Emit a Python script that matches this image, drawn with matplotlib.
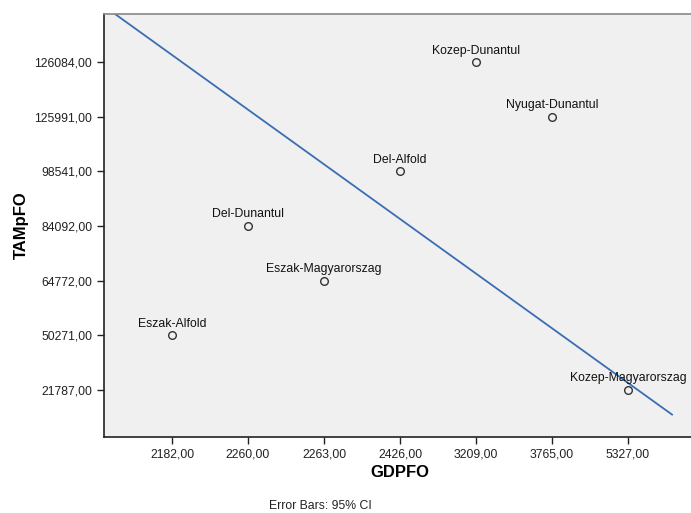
import numpy as np
import matplotlib.pyplot as plt

plt.rcParams['font.family'] = ['Liberation Sans', 'DejaVu Sans']

# categorical axes (SPSS treats the values as categories)
gdp_ticks = ['2182,00', '2260,00', '2263,00', '2426,00', '3209,00', '3765,00', '5327,00']
tam_ticks = ['21787,00', '50271,00', '64772,00', '84092,00', '98541,00', '125991,00', '126084,00']

regions = ['Eszak-Alfold', 'Del-Dunantul', 'Eszak-Magyarorszag', 'Del-Alfold',
           'Kozep-Dunantul', 'Nyugat-Dunantul', 'Kozep-Magyarorszag']
region_gdp = ['2182,00', '2260,00', '2263,00', '2426,00', '3209,00', '3765,00', '5327,00']
region_tam = ['50271,00', '84092,00', '64772,00', '98541,00', '126084,00', '125991,00', '21787,00']

# fit line, in category-position units
line_intercept = 6.13
line_slope = -1.0
line_span = [-0.75, 6.58]

fig = plt.figure(figsize=(6.91, 5.13), dpi=100)
ax = fig.add_axes([104 / 691, 76 / 513, 592 / 691, 423 / 513])
ax.set_facecolor('#f0f0f0')

xs = [gdp_ticks.index(v) for v in region_gdp]
ys = [tam_ticks.index(v) for v in region_tam]

lx = np.array(line_span)
ax.plot(lx, line_intercept + line_slope * lx, color='#3a6db3', lw=1.3, zorder=2)

ax.plot(xs, ys, 'o', ms=5.5, mfc='none', mec='#333333', mew=1.0, zorder=3)
for name, x, y in zip(regions, xs, ys):
    ax.annotate(name, (x, y), xytext=(0, 4), textcoords='offset points',
                ha='center', va='bottom', fontsize=8.8, color='#111111')

ax.set_xlim(-0.895, 6.895)
ax.set_ylim(-0.86, 6.88)
ax.set_xticks(range(len(gdp_ticks)))
ax.set_xticklabels(gdp_ticks)
ax.set_yticks(range(len(tam_ticks)))
ax.set_yticklabels(tam_ticks)
ax.tick_params(labelsize=8.8, length=5, width=1, color='#222222', labelcolor='#222222')

for s in ['left', 'bottom']:
    ax.spines[s].set_color('#222222')
    ax.spines[s].set_linewidth(1.2)
ax.spines['top'].set_color('#888888')
ax.spines['top'].set_linewidth(1.2)
ax.spines['right'].set_visible(False)

ax.set_xlabel('GDPFO', fontsize=12, fontweight='bold', labelpad=3)
ax.set_ylabel('TAMpFO', fontsize=12, fontweight='bold', labelpad=4)

fig.text(320 / 691, 1 - 506 / 513, 'Error Bars: 95% CI', ha='center', va='center',
         fontsize=8.8, color='#222222')

fig.savefig('out.png', dpi=100)
